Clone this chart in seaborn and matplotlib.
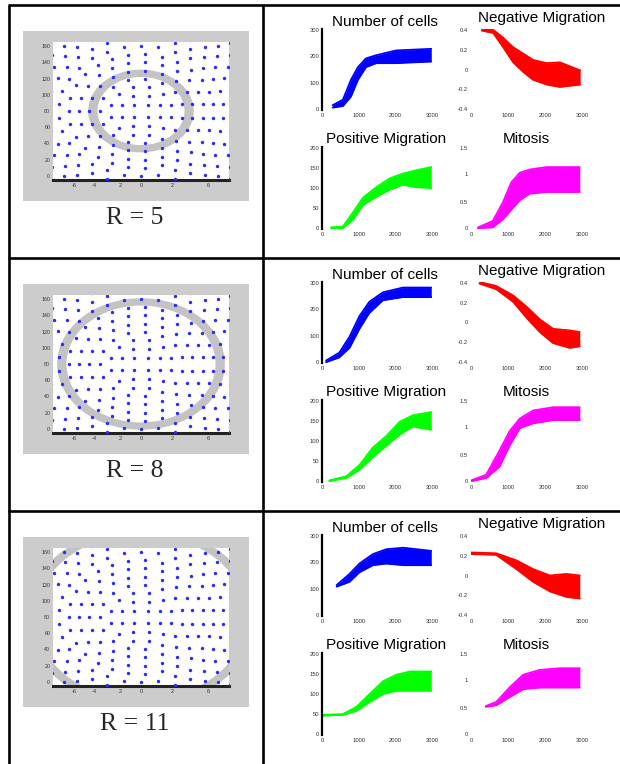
import numpy as np
import matplotlib
matplotlib.use('Agg')
import matplotlib.pyplot as plt
from matplotlib.patches import Rectangle, Wedge
import seaborn as sns

sns.set_theme(style='white')
plt.rcParams['font.family'] = ['Liberation Sans', 'DejaVu Sans']

# ring radius shown in each row
radii = [5, 8, 11]
row_labels = ['R = 5', 'R = 8', 'R = 11']

# cell positions: concentric rings of the lattice (ring radius, cells per ring)
dot_ring_radii = [1, 2, 3, 4, 5, 6, 7, 8, 9, 10, 11, 12]
dot_ring_counts = [4, 8, 12, 15, 19, 23, 27, 30, 34, 38, 42, 45]

# bundles of runs, read as lower / upper envelope (y in % of axis height)
# R = 5
r5_cells_x = [29, 57, 79, 98, 120, 148, 202, 298]
r5_cells_lo = [2, 4, 16, 37, 53, 58, 58, 60]
r5_cells_hi = [5, 12, 37, 53, 64, 68, 74, 76]
r5_neg_x = [29, 60, 87, 114, 141, 168, 205, 240, 295]
r5_neg_lo = [99, 96, 78, 59, 47, 37, 31, 28, 31]
r5_neg_hi = [101, 100, 90, 78, 70, 62, 58, 59, 49]
r5_pos_x = [25, 57, 85, 112, 148, 185, 221, 257, 298]
r5_pos_lo = [0, 0, 11, 29, 39, 48, 54, 51, 50]
r5_pos_hi = [1, 2, 20, 38, 51, 62, 68, 72, 76]
r5_mit_x = [19, 59, 86, 109, 132, 159, 204, 294]
r5_mit_lo = [0, 1, 11, 23, 35, 43, 45, 45]
r5_mit_hi = [1, 9, 32, 57, 69, 73, 76, 76]
# R = 8
r8_cells_x = [11, 47, 75, 102, 129, 166, 221, 298]
r8_cells_lo = [0, 6, 18, 42, 62, 78, 82, 82]
r8_cells_hi = [2, 12, 32, 58, 76, 88, 94, 94]
r8_neg_x = [23, 68, 114, 150, 186, 222, 267, 294]
r8_neg_lo = [99, 92, 76, 56, 38, 24, 18, 20]
r8_neg_hi = [101, 96, 84, 70, 54, 42, 40, 38]
r8_pos_x = [20, 66, 102, 139, 175, 212, 248, 298]
r8_pos_lo = [0, 4, 14, 30, 44, 58, 68, 64]
r8_pos_hi = [1, 6, 20, 42, 56, 74, 82, 86]
r8_mit_x = [1, 41, 77, 104, 132, 168, 222, 294]
r8_mit_lo = [0, 4, 18, 44, 66, 72, 76, 76]
r8_mit_hi = [1, 8, 38, 62, 78, 88, 92, 92]
# R = 11
r11_cells_x = [40, 75, 102, 139, 175, 221, 298]
r11_cells_lo = [36, 42, 54, 63, 65, 63, 63]
r11_cells_hi = [38, 52, 65, 77, 83, 85, 81]
r11_neg_x = [0, 68, 123, 168, 213, 258, 294]
r11_neg_lo = [77, 76, 58, 42, 30, 23, 21]
r11_neg_hi = [79, 78, 69, 58, 50, 52, 50]
r11_pos_x = [0, 57, 94, 130, 167, 203, 240, 298]
r11_pos_lo = [23, 24, 29, 40, 50, 54, 54, 54]
r11_pos_hi = [24, 25, 34, 50, 66, 74, 78, 78]
r11_mit_x = [40, 68, 104, 141, 186, 240, 294]
r11_mit_lo = [34, 36, 46, 56, 58, 58, 58]
r11_mit_hi = [35, 40, 58, 74, 80, 82, 82]

rows = [
    [(r5_cells_x, r5_cells_lo, r5_cells_hi), (r5_neg_x, r5_neg_lo, r5_neg_hi),
     (r5_pos_x, r5_pos_lo, r5_pos_hi), (r5_mit_x, r5_mit_lo, r5_mit_hi)],
    [(r8_cells_x, r8_cells_lo, r8_cells_hi), (r8_neg_x, r8_neg_lo, r8_neg_hi),
     (r8_pos_x, r8_pos_lo, r8_pos_hi), (r8_mit_x, r8_mit_lo, r8_mit_hi)],
    [(r11_cells_x, r11_cells_lo, r11_cells_hi), (r11_neg_x, r11_neg_lo, r11_neg_hi),
     (r11_pos_x, r11_pos_lo, r11_pos_hi), (r11_mit_x, r11_mit_lo, r11_mit_hi)],
]

panel_titles = ['Number of cells', 'Negative Migration', 'Positive Migration', 'Mitosis']
panel_colors = ['#0000ff', '#ff0000', '#00ff00', '#ff00ff']
panel_yticks = [[0, 33, 67, 100], [0, 25, 50, 75, 100], [0, 25, 50, 75, 100], [0, 33, 67, 100]]
panel_ylabels = [['0', '100', '200', '300'], ['-0.4', '-0.2', '0', '0.2', '0.4'],
                 ['0', '50', '100', '150', '200'], ['0', '0.5', '1', '1.5']]
x_ticks = [0, 100, 200, 300]
x_labels = ['0', '1000', '2000', '3000']

W, H = 620, 764
fig = plt.figure(figsize=(W / 100, H / 100), dpi=100)


def px_axes(x, y, w, h):
    return fig.add_axes([x / W, 1 - (y + h) / H, w / W, h / H])


# table lines and grey frames
bg = fig.add_axes([0, 0, 1, 1])
bg.set_xlim(0, W)
bg.set_ylim(H, 0)
bg.axis('off')
row_tops = [5, 258, 511]
lw_tab = 1.9
bg.plot([9, 9], [5, H], color='black', lw=lw_tab, solid_capstyle='butt')
bg.plot([263, 263], [5, H], color='black', lw=lw_tab, solid_capstyle='butt')
for rt in row_tops:
    bg.plot([8, W], [rt, rt], color='black', lw=lw_tab, solid_capstyle='butt')

# dot lattice (same in every row)
dot_x, dot_y = [], []
for r, n in zip(dot_ring_radii, dot_ring_counts):
    ang = np.pi / n + 2 * np.pi * np.arange(n) / n
    dot_x.extend(r * np.cos(ang))
    dot_y.extend(r * np.sin(ang))

ax_pos = [(322, 24, 110, 81), (471, 24, 111, 81), (322, 142, 110, 82), (471, 142, 111, 82)]
title_pos = [(0.57, 1.086), (0.64, 1.136), (0.58, 1.10), (0.50, 1.10)]
tick_col = '#333333'

for i, rt in enumerate(row_tops):
    # left cell: domain with the ring
    bg.add_patch(Rectangle((23, rt + 26), 226, 170, color='#cccccc', lw=0))
    ax = px_axes(53, rt + 37, 176, 138)
    ax.set_facecolor('white')
    R = radii[i]
    ax.add_patch(Wedge((0, 0), R + 0.1, 0, 360, width=0.9, color='#c3c3c3', lw=0))
    sns.scatterplot(x=dot_x, y=dot_y, ax=ax, s=6, color='#2a2aff', linewidth=0, zorder=3)
    ax.set_xlim(-8.5, 8.5)
    ax.set_ylim(-8.5, 8.5)
    for s in ['top', 'right', 'left']:
        ax.spines[s].set_visible(False)
    ax.spines['bottom'].set_color('#222222')
    ax.spines['bottom'].set_linewidth(2.2)
    ax.set_xticks([-6.5, -4.5, -2, 0, 3, 6.5])
    ax.set_xticklabels(['-6', '-4', '2', '0', '2', '6'], fontsize=4, color=tick_col)
    ax.set_yticks([-8, -6, -4, -2, 0, 2, 4, 6, 8])
    ax.set_yticklabels(['0', '20', '40', '60', '80', '100', '120', '140', '160'],
                       fontsize=3.8, color=tick_col)
    ax.tick_params(length=0, pad=2)
    bg.text(135, rt + 213, row_labels[i], ha='center', va='center', fontsize=18.5,
            family=['Liberation Serif', 'DejaVu Serif'])

    # right cell: four small panels
    for k in range(4):
        xs, lo, hi = rows[i][k]
        x0, y0, w, h = ax_pos[k]
        pa = px_axes(x0, rt + y0, w, h)
        pa.set_facecolor('none')
        col = panel_colors[k]
        pa.fill_between(xs, lo, hi, color=col, lw=0)
        sns.lineplot(x=xs, y=lo, ax=pa, color=col, lw=1.3)
        sns.lineplot(x=xs, y=hi, ax=pa, color=col, lw=1.3)
        pa.set_xlim(0, 300)
        pa.set_ylim(-1, 101)
        pa.set_xticks(x_ticks)
        pa.set_xticklabels(x_labels, fontsize=4.2, color=tick_col)
        pa.set_yticks(panel_yticks[k])
        pa.set_yticklabels(panel_ylabels[k], fontsize=4.2, color=tick_col)
        pa.tick_params(length=0, pad=2)
        for s in ['top', 'right', 'bottom']:
            pa.spines[s].set_visible(False)
        if k % 2 == 0:
            pa.spines['left'].set_color('black')
            pa.spines['left'].set_linewidth(1.6)
        else:
            pa.spines['left'].set_visible(False)
        tx, ty = title_pos[k]
        pa.text(tx, ty, panel_titles[k], transform=pa.transAxes, ha='center', va='center',
                fontsize=11, color='black', zorder=10,
                bbox=dict(facecolor='white', edgecolor='none', pad=1.0))

fig.savefig('out.png', dpi=100)
